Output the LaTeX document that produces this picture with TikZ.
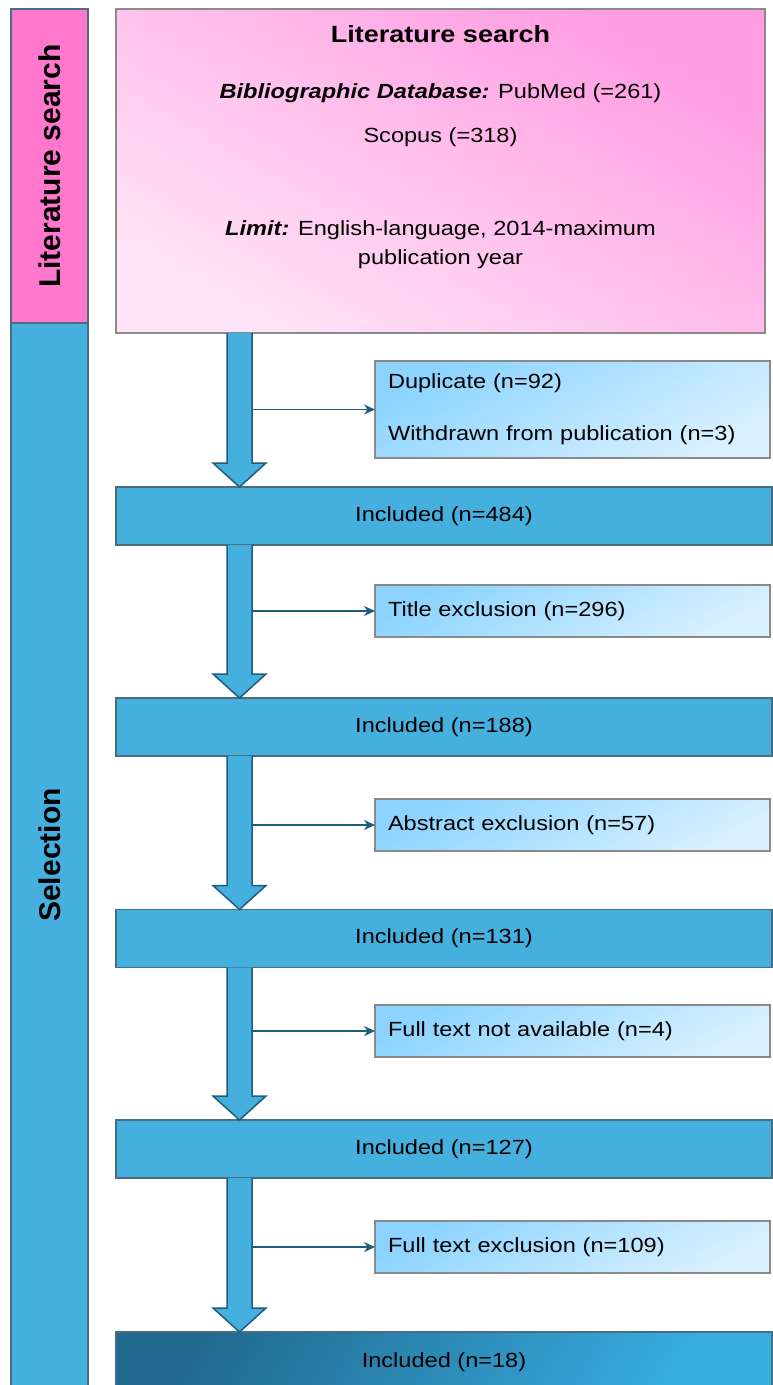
\documentclass[tikz,border=0pt]{standalone}
\usepackage{fontspec}
\setmainfont{Liberation Sans}[FakeStretch=1.15]
\newfontfamily\sidefont{Liberation Sans}
\usepackage{xcolor}
\usetikzlibrary{arrows.meta,calc}

\definecolor{sidepink}{HTML}{FF78CE}
\definecolor{boxblue}{HTML}{45AFDE}
\definecolor{pinkhi}{HTML}{FF9CE2}
\definecolor{pinklo}{HTML}{FFE3F6}
\definecolor{exchi}{HTML}{8CD4FF}
\definecolor{exclo}{HTML}{D9F0FF}
\definecolor{finaldark}{HTML}{21698F}
\definecolor{finallight}{HTML}{38AEE2}
\definecolor{edgegray}{HTML}{8A8A8A}
\definecolor{edgeblue}{HTML}{4A6E80}
\definecolor{arrowdark}{HTML}{1E5D7E}

\begin{document}
\begin{tikzpicture}[x=1pt, y=-1pt,
    every node/.style={inner sep=0pt, outer sep=0pt, font=\fontsize{20.5}{29}\selectfont},
    side/.style={draw=edgeblue, line width=1.5pt, rotate=90, minimum height=77pt,
        font=\sidefont\fontsize{30}{36}\selectfont\bfseries},
    searchbox/.style={draw=edgegray, line width=1.5pt, top color=pinkhi, bottom color=pinklo, shading angle=-30},
    incbox/.style={draw=edgeblue, line width=1.5pt, fill=boxblue, minimum width=656pt, minimum height=58pt},
    finalbox/.style={draw=edgeblue, line width=1.5pt, top color=finaldark, bottom color=finallight,
        shading angle=60, minimum width=656pt, minimum height=60pt},
    excbox/.style={draw=edgegray, line width=1.5pt, top color=exchi, bottom color=exclo, shading angle=30,
        text width=369pt, align=left, inner xsep=13pt, minimum height=52pt, anchor=west},
    fatarrow/.style={draw=arrowdark, line width=1.5pt, fill=boxblue, line join=miter},
    excarrow/.style={draw=arrowdark, line width=1.3pt, -{Stealth[length=11pt,width=10pt]}}]
    \useasboundingbox (0,0) rectangle (772,1385);
    % Side bars
    \node[side, fill=sidepink, minimum width=314pt] (litside) at (49.5,166) {Literature search};
    \node[side, fill=boxblue, minimum width=1064pt] (selside) at (49.5,855) {Selection};
    % Search box
    \node[searchbox, minimum width=649pt, minimum height=324pt] (search) at (440.5,171) {};
    \node[font=\bfseries\fontsize{23.5}{28}\selectfont] (title) at (440.5,34) {Literature search};
    \node (db) at (440.5,93) {\textbf{\textit{Bibliographic Database:}} PubMed (=261)};
    \node (scopus) at (440.5,137) {Scopus (=318)};
    \node[align=center] (limit) at (440.5,244.5) {\textbf{\textit{Limit:}} English-language, 2014-maximum\\publication year};
    % Included boxes
    \node[incbox] (inc1) at (444,516) {Included (n=484)};
    \node[incbox] (inc2) at (444,727) {Included (n=188)};
    \node[incbox] (inc3) at (444,938.5) {Included (n=131)};
    \node[incbox] (inc4) at (444,1149) {Included (n=127)};
    \node[finalbox] (inc5) at (444,1362) {Included (n=18)};
    % Exclusion boxes
    \node[excbox, minimum height=97pt] (exc1) at (375,409.5) {Duplicate (n=92)\\[23pt]Withdrawn from publication (n=3)};
    \node[excbox] (exc2) at (375,611) {Title exclusion (n=296)};
    \node[excbox] (exc3) at (375,825) {Abstract exclusion (n=57)};
    \node[excbox] (exc4) at (375,1031) {Full text not available (n=4)};
    \node[excbox] (exc5) at (375,1247) {Full text exclusion (n=109)};
    % Arrows
    \foreach \a/\b in {search/inc1, inc1/inc2, inc2/inc3, inc3/inc4, inc4/inc5}
        \draw[fatarrow] let \p1=(\a.south), \p2=(\b.north) in
            (227pt,\y1) -- (227pt,\y2+24pt) -- (213pt,\y2+24pt) -- (239.5pt,\y2)
            -- (266pt,\y2+24pt) -- (252pt,\y2+24pt) -- (252pt,\y1);
    \coordinate (shaft) at (251,0);
    \foreach \e in {exc1, exc2, exc3, exc4, exc5}
        \draw[excarrow] (shaft |- \e.west) -- (\e.west);
\end{tikzpicture}
\end{document}
